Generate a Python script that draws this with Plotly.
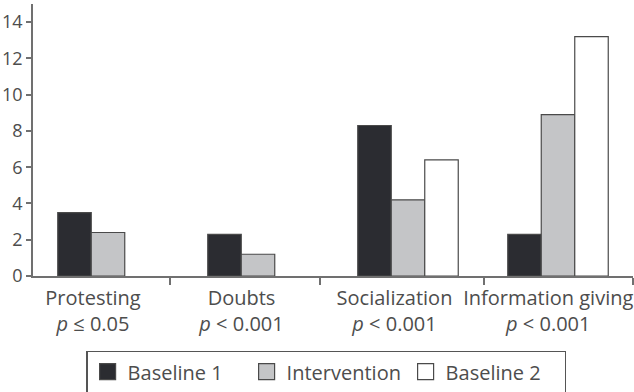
import plotly.graph_objects as go

categories = ["Protesting", "Doubts", "Socialization", "Information giving"]
p_labels = ["<i>p</i> ≤ 0.05", "<i>p</i> < 0.001", "<i>p</i> < 0.001", "<i>p</i> < 0.001"]
baseline1 = [3.5, 2.3, 8.3, 2.3]
intervention = [2.4, 1.2, 4.2, 8.9]
baseline2 = [None, None, 6.4, 13.2]
y_ticks = [0, 2, 4, 6, 8, 10, 12, 14]

x_pos = list(range(len(categories)))
label_pos = [-0.1, 0.89, 1.91, 2.935]
boundary_ticks = [0.413, 1.41, 2.507, 3.5]

FONT = "Open Sans"
TXT = "#4d4d4d"
EDGE = "#4a4a4a"

series = [("Baseline 1", baseline1, "#2b2c31"),
          ("Intervention", intervention, "#c4c5c7"),
          ("Baseline 2", baseline2, "#ffffff")]

fig = go.Figure()
for name, vals, col in series:
    fig.add_trace(go.Bar(x=x_pos, y=vals, name=name, showlegend=False,
                         marker=dict(color=col, line=dict(color=EDGE, width=1.2))))
# legend swatches (larger squares than the default bar swatch)
for name, vals, col in series:
    fig.add_trace(go.Scatter(x=[None], y=[None], mode="markers", name=name,
                             marker=dict(symbol="square", size=16, color=col,
                                         line=dict(color=EDGE, width=1.2))))

fig.update_layout(
    width=634, height=392,
    margin=dict(l=33, r=1, t=4, b=116, autoexpand=False),
    plot_bgcolor="white", paper_bgcolor="white",
    barmode="group", bargap=0.33, bargroupgap=0,
    font=dict(family=FONT, size=20, color=TXT),
    showlegend=True,
    legend=dict(orientation="h", x=0.489, xanchor="center",
                yref="container", y=1 - 351 / 392, yanchor="top",
                bordercolor="#555", borderwidth=1.2, font=dict(size=20, color=TXT),
                traceorder="normal", itemsizing="trace", entrywidth=114),
)
fig.update_xaxes(
    range=[-0.5, 3.5], showgrid=False, zeroline=False,
    showline=True, linecolor="#707070", linewidth=1.5,
    tickmode="array", tickvals=label_pos,
    ticktext=[f"{c}<br>{p}" for c, p in zip(categories, p_labels)],
    ticks="", ticklabelstandoff=3,
    tickfont=dict(size=20, color=TXT),
    minor=dict(tickmode="array", tickvals=boundary_ticks, ticks="outside",
               ticklen=7, tickcolor="#707070", tickwidth=1.5),
)
fig.update_yaxes(
    range=[0, 15], showgrid=False, zeroline=False,
    showline=True, linecolor="#707070", linewidth=1.5,
    tickmode="array", tickvals=y_ticks, ticks="outside", ticklen=5,
    tickcolor="#707070", tickwidth=1.5,
    tickfont=dict(size=18, color=TXT),
)
fig.write_html("out.html")
